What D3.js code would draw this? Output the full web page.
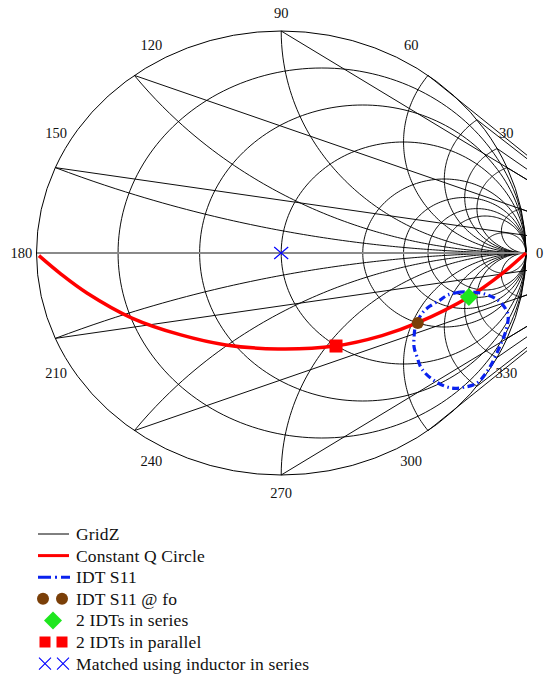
<!DOCTYPE html>
<html>
<head>
<meta charset="utf-8">
<script src="https://cdn.jsdelivr.net/npm/d3@7"></script>
<style>
body { margin: 0; background: #fff; }
text { font-family: "Liberation Serif", "Times New Roman", serif; fill: #111; }
</style>
</head>
<body>
<svg id="chart" width="545" height="677"></svg>
<script>
// Smith chart grid (normalised resistance / reactance values)
var gridR = [0.2, 0.5, 1, 2, 3, 4, 5, 10];
var gridX = [0.2, 0.5, 1, 2, 3, 4, 5, 10];
var gridRStart = -6;   // stray first point of every reactance trace
var angleTicks = [0, 30, 60, 90, 120, 150, 180, 210, 240, 270, 300, 330];

// reflection coefficient points [re, im]
var qCircle = [[-0.99, -0.012], [-0.9, -0.095], [-0.794, -0.18], [-0.61, -0.293], [-0.41, -0.369],
  [-0.226, -0.414], [-0.013, -0.432], [0.22, -0.419], [0.412, -0.372], [0.556, -0.315],
  [0.767, -0.198], [0.9, -0.095], [1.0, 0]];
var idtS11 = [[0.73, -0.176], [0.681, -0.189], [0.649, -0.212], [0.608, -0.239], [0.58, -0.266],
  [0.559, -0.302], [0.547, -0.338], [0.543, -0.378], [0.543, -0.423], [0.555, -0.468],
  [0.575, -0.523], [0.628, -0.577], [0.694, -0.608], [0.751, -0.604], [0.8, -0.586],
  [0.837, -0.541], [0.862, -0.495], [0.894, -0.419], [0.919, -0.347], [0.927, -0.279],
  [0.906, -0.234], [0.878, -0.207], [0.833, -0.185], [0.78, -0.176], [0.73, -0.176]];
var idtS11fo = [[0.558, -0.315]];
var idtSeries = [[0.767, -0.198]];
var idtParallel = [[0.224, -0.419]];
var matchedL = [[0, 0]];

var legendNames = ["GridZ", "Constant Q Circle", "IDT S11", "IDT S11 @ fo",
  "2 IDTs in series", "2 IDTs in parallel", "Matched using inductor in series"];

var svg = d3.select("#chart");
var xScale = d3.scaleLinear().domain([-1, 1]).range([36.5, 525.9]);
var yScale = d3.scaleLinear().domain([-1, 1]).range([475, 31]);

// z = r + jx  ->  gamma
function gam(r, x) {
  var den = (r + 1) * (r + 1) + x * x;
  return [(r * r - 1 + x * x) / den, 2 * x / den];
}

var line = d3.line().x(function(d) { return xScale(d[0]); }).y(function(d) { return yScale(d[1]); });

svg.append("clipPath").attr("id", "plotclip").append("rect")
  .attr("x", 36).attr("y", 30).attr("width", 491).attr("height", 446);

var grid = svg.append("g").attr("clip-path", "url(#plotclip)")
  .attr("fill", "none").attr("stroke", "#000").attr("stroke-width", 0.95);

// constant resistance circles
gridR.forEach(function(r) {
  var pts = d3.range(-1, 1.0001, 0.01).map(function(t) {
    var a = t * (Math.PI / 2 - 0.002);
    return gam(r, (r + 1) * Math.tan(a));
  });
  grid.append("path").attr("d", line(pts));
});

// constant reactance arcs, with the straight start segment
gridX.forEach(function(xv) {
  [xv, -xv].forEach(function(x) {
    var pts = [gam(gridRStart, x)].concat(d3.range(0, 1.0001, 0.01).map(function(t) {
      var a = t * (Math.PI / 2 - 0.002);
      return gam(Math.tan(a) * 2, x);
    }));
    grid.append("path").attr("d", line(pts));
  });
});

// real axis
grid.append("line")
  .attr("x1", xScale(-1)).attr("x2", xScale(1.2))
  .attr("y1", yScale(0)).attr("y2", yScale(0))
  .attr("stroke", "#8a8a8a").attr("stroke-width", 2);

// polar frame
svg.append("ellipse")
  .attr("cx", xScale(0)).attr("cy", yScale(0))
  .attr("rx", xScale(1) - xScale(0)).attr("ry", yScale(0) - yScale(1))
  .attr("fill", "none").attr("stroke", "#000").attr("stroke-width", 1);

// angle labels
svg.selectAll(".ang").data(angleTicks).enter().append("text")
  .attr("class", "ang")
  .attr("x", function(d) { return xScale(1.062 * Math.cos(d * Math.PI / 180)); })
  .attr("y", function(d) { return yScale(1.081 * Math.sin(d * Math.PI / 180)); })
  .attr("text-anchor", function(d) { return d === 0 ? "start" : "middle"; })
  .attr("dx", function(d) { return d === 0 ? -5 : 0; })
  .attr("dominant-baseline", "central")
  .attr("font-size", "14.5px")
  .text(function(d) { return d; });

// data
var plot = svg.append("g").attr("clip-path", "url(#plotclip)");

plot.append("path").datum(qCircle)
  .attr("d", line.curve(d3.curveCatmullRom))
  .attr("fill", "none").attr("stroke", "#ff0000").attr("stroke-width", 3.5);

plot.append("path").datum(idtS11)
  .attr("d", line.curve(d3.curveCatmullRom))
  .attr("fill", "none").attr("stroke", "#0a22ee").attr("stroke-width", 3.2)
  .attr("stroke-dasharray", "7 3.5 1.5 3.5");

plot.selectAll(".fo").data(idtS11fo).enter().append("circle")
  .attr("cx", function(d) { return xScale(d[0]); })
  .attr("cy", function(d) { return yScale(d[1]); })
  .attr("r", 6).attr("fill", "#7a3f08");

plot.selectAll(".ser").data(idtSeries).enter().append("path")
  .attr("transform", function(d) { return "translate(" + xScale(d[0]) + "," + yScale(d[1]) + ")"; })
  .attr("d", "M0,-9L9,0L0,9L-9,0Z").attr("fill", "#1ee61e");

plot.selectAll(".par").data(idtParallel).enter().append("rect")
  .attr("x", function(d) { return xScale(d[0]) - 6.5; })
  .attr("y", function(d) { return yScale(d[1]) - 6.5; })
  .attr("width", 13).attr("height", 13).attr("fill", "#ff0000");

plot.selectAll(".mat").data(matchedL).enter().append("path")
  .attr("transform", function(d) { return "translate(" + xScale(d[0]) + "," + yScale(d[1]) + ")"; })
  .attr("d", "M-7,-6L7,6M-7,6L7,-6").attr("stroke", "#0000ff").attr("stroke-width", 1.2);

// legend
var legend = svg.append("g");
var rowY = function(i) { return 534 + i * 21.6; };

legend.append("line").attr("x1", 38).attr("x2", 69).attr("y1", rowY(0)).attr("y2", rowY(0))
  .attr("stroke", "#000").attr("stroke-width", 1);
legend.append("line").attr("x1", 38).attr("x2", 69).attr("y1", rowY(1)).attr("y2", rowY(1))
  .attr("stroke", "#ff0000").attr("stroke-width", 3);
legend.append("line").attr("x1", 38).attr("x2", 70).attr("y1", rowY(2)).attr("y2", rowY(2))
  .attr("stroke", "#0a22ee").attr("stroke-width", 3).attr("stroke-dasharray", "13 4 2 4");
[43, 62].forEach(function(x) {
  legend.append("circle").attr("cx", x).attr("cy", rowY(3)).attr("r", 6).attr("fill", "#7a3f08");
});
legend.append("path").attr("transform", "translate(53," + rowY(4) + ")")
  .attr("d", "M0,-9L9,0L0,9L-9,0Z").attr("fill", "#1ee61e");
[45, 62].forEach(function(x) {
  legend.append("rect").attr("x", x - 5.5).attr("y", rowY(5) - 5.5).attr("width", 11).attr("height", 11).attr("fill", "#ff0000");
});
[45, 63].forEach(function(x) {
  legend.append("path").attr("transform", "translate(" + x + "," + rowY(6) + ")")
    .attr("d", "M-6,-6L6,6M-6,6L6,-6").attr("stroke", "#0000ff").attr("stroke-width", 1.1);
});

legend.selectAll(".lt").data(legendNames).enter().append("text")
  .attr("class", "lt")
  .attr("x", 76).attr("y", function(d, i) { return rowY(i); })
  .attr("dominant-baseline", "central")
  .attr("font-size", "17.5px")
  .attr("letter-spacing", "0.15px")
  .text(function(d) { return d; });
</script>
</body>
</html>
